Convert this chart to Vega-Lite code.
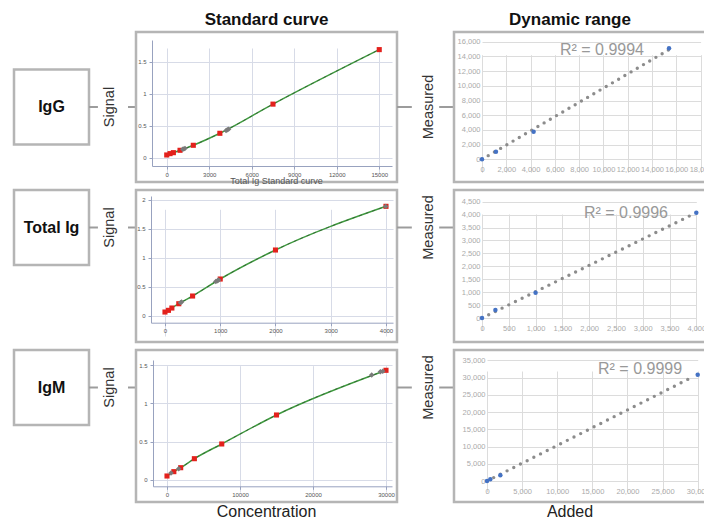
{
  "$schema": "https://vega.github.io/schema/vega-lite/v6.json",
  "background": "white",
  "padding": {"left": 12, "top": 9, "right": 0, "bottom": 0},
  "config": {
    "view": {"stroke": null},
    "font": "Liberation Sans",
    "axis": {"labelFont": "Liberation Sans"},
    "title": {"font": "Liberation Sans"}
  },
  "columns": 5,
  "bounds": "flush",
  "align": "each",
  "center": true,
  "spacing": {"row": 8, "column": 0},
  "concat": [
    {
      "width": 75, "height": 75,
      "view": {"stroke": "#b5b5b5", "strokeWidth": 2.5, "fill": "white"},
      "data": {"values": [{"name": "IgG"}]},
      "mark": {"type": "text", "fontSize": 16, "fontWeight": "bold", "color": "#111"},
      "encoding": {"text": {"field": "name"}}
    },
    {
      "width": 47, "height": 75,
      "data": {"values": [{"label": "Signal"}]},
      "layer": [
        {"mark": {"type": "rule", "color": "#9c9c9c", "strokeWidth": 2}, "encoding": {"x": {"datum": 0, "type": "quantitative", "scale": {"domain": [0, 1], "nice": false, "zero": false}, "axis": null}, "x2": {"datum": 0.19}}},
        {"mark": {"type": "rule", "color": "#9c9c9c", "strokeWidth": 2}, "encoding": {"x": {"datum": 0.83, "type": "quantitative", "axis": null}, "x2": {"datum": 1}}},
        {"mark": {"type": "text", "angle": 270, "fontSize": 14.5, "color": "#333"}, "encoding": {"x": {"datum": 0.447, "type": "quantitative", "axis": null}, "text": {"field": "label"}}}
      ]
    },
    {
      "width": 261, "height": 150,
      "view": {"stroke": "#b5b5b5", "strokeWidth": 2.5},
      "title": {"text": "Standard curve", "fontSize": 17, "fontWeight": "bold", "anchor": "middle", "offset": 3, "color": "#111"},
      "data": {"values": [
        {"conc": 0, "signal": 0.047, "kind": "standard"},
        {"conc": 234, "signal": 0.068, "kind": "standard"},
        {"conc": 469, "signal": 0.083, "kind": "standard"},
        {"conc": 938, "signal": 0.12, "kind": "standard"},
        {"conc": 1875, "signal": 0.198, "kind": "standard"},
        {"conc": 3750, "signal": 0.385, "kind": "standard"},
        {"conc": 7500, "signal": 0.84, "kind": "standard"},
        {"conc": 15000, "signal": 1.69, "kind": "standard"},
        {"conc": 1130, "signal": 0.135, "kind": "sample"},
        {"conc": 1210, "signal": 0.142, "kind": "sample"},
        {"conc": 1290, "signal": 0.15, "kind": "sample"},
        {"conc": 4190, "signal": 0.43, "kind": "sample"},
        {"conc": 4280, "signal": 0.44, "kind": "sample"},
        {"conc": 4370, "signal": 0.45, "kind": "sample"}
      ]},
      "encoding": {
        "x": {"field": "conc", "type": "quantitative",
          "scale": {"domain": [-1040, 15900], "range": [16, 256], "nice": false, "zero": false},
          "axis": {"title": null, "values": [0, 3000, 6000, 9000, 12000, 15000], "format": "d", "offset": -16, "labelFontSize": 6, "labelColor": "#555", "domainColor": "#98a2bf", "tickColor": "#98a2bf", "tickSize": 3, "labelPadding": 2, "gridColor": "#d7dbe7", "grid": true, "labelOverlap": false, "labelFlush": false}},
        "y": {"field": "signal", "type": "quantitative",
          "scale": {"domain": [-0.125, 1.84], "range": [134, 8], "nice": false, "zero": false},
          "axis": {"title": null, "values": [0, 0.5, 1, 1.5], "format": "~g", "offset": -16, "labelFontSize": 6, "labelColor": "#555", "domainColor": "#98a2bf", "tickColor": "#98a2bf", "tickSize": 3, "labelPadding": 3, "gridColor": "#d7dbe7", "grid": true, "labelOverlap": false, "labelFlush": false}}
      },
      "layer": [
        {"data": {"values": [{"lo": 1.5, "hi": 1.84}, {"lo": 0.5, "hi": 1}, {"lo": -0.125, "hi": 0}]},
         "mark": {"type": "rect", "fill": "#eceef4"},
         "encoding": {"x": {"datum": -1040, "type": "quantitative"}, "x2": {"datum": 15900}, "y": {"field": "lo", "type": "quantitative"}, "y2": {"field": "hi"}}},
        {"transform": [{"filter": "datum.kind == 'standard'"}], "mark": {"type": "line", "color": "#3f9b3f", "strokeWidth": 1.5, "interpolate": "monotone"}},
        {"transform": [{"filter": "datum.kind == 'standard'"}], "mark": {"type": "line", "color": "#2b472b", "strokeWidth": 1, "strokeDash": [3, 4], "opacity": 0.6, "interpolate": "monotone"}},
        {"transform": [{"filter": "datum.kind == 'standard'"}], "mark": {"type": "square", "color": "#e3211c", "size": 26, "opacity": 1}},
        {"transform": [{"filter": "datum.kind == 'sample'"}], "mark": {"type": "point", "shape": "diamond", "filled": true, "color": "#7a7a7a", "size": 30, "opacity": 1}}
      ]
    },
    {
      "width": 57, "height": 75,
      "data": {"values": [{"label": "Measured"}]},
      "layer": [
        {"mark": {"type": "rule", "color": "#9c9c9c", "strokeWidth": 2}, "encoding": {"x": {"datum": 0, "type": "quantitative", "scale": {"domain": [0, 1], "nice": false, "zero": false}, "axis": null}, "x2": {"datum": 0.26}}},
        {"mark": {"type": "rule", "color": "#9c9c9c", "strokeWidth": 2}, "encoding": {"x": {"datum": 0.74, "type": "quantitative", "axis": null}, "x2": {"datum": 1}}},
        {"mark": {"type": "text", "angle": 270, "fontSize": 14.5, "color": "#333"}, "encoding": {"x": {"datum": 0.553, "type": "quantitative", "axis": null}, "text": {"field": "label"}}}
      ]
    },
    {
      "width": 262, "height": 150,
      "view": {"stroke": "#b5b5b5", "strokeWidth": 2.5},
      "title": {"text": "Dynamic range", "fontSize": 17, "fontWeight": "bold", "anchor": "middle", "offset": 3, "dx": -15, "color": "#111"},
      "data": {"values": [
        {"added": 0, "measured": 0, "kind": "point"},
        {"added": 1150, "measured": 1030, "kind": "point"},
        {"added": 4250, "measured": 3760, "kind": "point"},
        {"added": 15400, "measured": 15100, "kind": "point"},
        {"added": 0, "measured": 0, "kind": "fit"},
        {"added": 15350, "measured": 14870, "kind": "fit"},
        {"added": 6420, "measured": 14870, "kind": "label", "label": "R² = 0.9994"}
      ]},
      "encoding": {
        "x": {"field": "added", "type": "quantitative",
          "scale": {"domain": [0, 18000], "range": [28, 246.6], "nice": false, "zero": false},
          "axis": {"title": null, "values": [0, 2000, 4000, 6000, 8000, 10000, 12000, 14000, 16000, 18000], "format": ",.0f", "offset": -22.7, "domain": false, "ticks": false, "labelFontSize": 7.5, "labelColor": "#aaa", "labelPadding": 6, "gridColor": "#dcdcdc", "grid": true, "labelOverlap": false, "labelFlush": false}},
        "y": {"field": "measured", "type": "quantitative",
          "scale": {"domain": [0, 16000], "range": [127.3, 9.7], "nice": false, "zero": false},
          "axis": {"title": null, "values": [0, 2000, 4000, 6000, 8000, 10000, 12000, 14000, 16000], "format": ",.0f", "offset": -28, "domain": false, "ticks": false, "labelFontSize": 7.5, "labelColor": "#aaa", "labelPadding": 2, "gridColor": "#dcdcdc", "grid": true, "labelOverlap": false, "labelFlush": false}}
      },
      "layer": [
        {"transform": [{"filter": "datum.kind == 'fit'"}], "mark": {"type": "line", "color": "#8c8c8c", "strokeWidth": 3.4, "strokeDash": [0, 7.2], "strokeCap": "round"}},
        {"transform": [{"filter": "datum.kind == 'point'"}], "mark": {"type": "circle", "color": "#4472c4", "size": 20, "opacity": 1}},
        {"transform": [{"filter": "datum.kind == 'label'"}], "mark": {"type": "text", "align": "left", "baseline": "middle", "fontSize": 16, "color": "#999999"}, "encoding": {"text": {"field": "label", "type": "nominal"}}}
      ]
    },
    {
      "width": 75, "height": 75,
      "view": {"stroke": "#b5b5b5", "strokeWidth": 2.5, "fill": "white"},
      "data": {"values": [{"name": "Total Ig"}]},
      "mark": {"type": "text", "fontSize": 16, "fontWeight": "bold", "color": "#111"},
      "encoding": {"text": {"field": "name"}}
    },
    {
      "width": 47, "height": 75,
      "data": {"values": [{"label": "Signal"}]},
      "layer": [
        {"mark": {"type": "rule", "color": "#9c9c9c", "strokeWidth": 2}, "encoding": {"x": {"datum": 0, "type": "quantitative", "scale": {"domain": [0, 1], "nice": false, "zero": false}, "axis": null}, "x2": {"datum": 0.19}}},
        {"mark": {"type": "rule", "color": "#9c9c9c", "strokeWidth": 2}, "encoding": {"x": {"datum": 0.83, "type": "quantitative", "axis": null}, "x2": {"datum": 1}}},
        {"mark": {"type": "text", "angle": 270, "fontSize": 14.5, "color": "#333"}, "encoding": {"x": {"datum": 0.447, "type": "quantitative", "axis": null}, "text": {"field": "label"}}}
      ]
    },
    {
      "width": 261, "height": 152,
      "view": {"stroke": "#b5b5b5", "strokeWidth": 2.5},
      "title": {"text": "Total Ig  Standard curve", "fontSize": 9, "fontWeight": "normal", "anchor": "middle", "offset": 4, "dx": 10, "color": "#555"},
      "data": {"values": [
        {"conc": 0, "signal": 0.064, "kind": "standard"},
        {"conc": 62.5, "signal": 0.093, "kind": "standard"},
        {"conc": 125, "signal": 0.133, "kind": "standard"},
        {"conc": 250, "signal": 0.207, "kind": "standard"},
        {"conc": 500, "signal": 0.34, "kind": "standard"},
        {"conc": 1000, "signal": 0.633, "kind": "standard"},
        {"conc": 2000, "signal": 1.133, "kind": "standard"},
        {"conc": 4000, "signal": 1.886, "kind": "standard"},
        {"conc": 280, "signal": 0.226, "kind": "sample"},
        {"conc": 300, "signal": 0.236, "kind": "sample"},
        {"conc": 920, "signal": 0.59, "kind": "sample"},
        {"conc": 950, "signal": 0.605, "kind": "sample"},
        {"conc": 970, "signal": 0.615, "kind": "sample"},
        {"conc": 3995, "signal": 1.885, "kind": "sample"}
      ]},
      "encoding": {
        "x": {"field": "conc", "type": "quantitative",
          "scale": {"domain": [-253, 4127], "range": [15, 257], "nice": false, "zero": false},
          "axis": {"title": null, "values": [0, 1000, 2000, 3000, 4000], "format": "d", "offset": -19.3, "labelFontSize": 6, "labelColor": "#555", "domainColor": "#98a2bf", "tickColor": "#98a2bf", "tickSize": 3, "labelPadding": 2, "gridColor": "#d7dbe7", "grid": true, "labelOverlap": false, "labelFlush": false}},
        "y": {"field": "signal", "type": "quantitative",
          "scale": {"domain": [-0.12, 2.064], "range": [132.7, 6], "nice": false, "zero": false},
          "axis": {"title": null, "values": [0, 0.5, 1, 1.5, 2], "format": "~g", "offset": -15, "labelFontSize": 6, "labelColor": "#555", "domainColor": "#98a2bf", "tickColor": "#98a2bf", "tickSize": 3, "labelPadding": 3, "gridColor": "#d7dbe7", "grid": true, "labelOverlap": false, "labelFlush": false}}
      },
      "layer": [
        {"data": {"values": [{"lo": 1.5, "hi": 2.064}, {"lo": 0.5, "hi": 1}, {"lo": -0.12, "hi": 0}]},
         "mark": {"type": "rect", "fill": "#eceef4"},
         "encoding": {"x": {"datum": -253, "type": "quantitative"}, "x2": {"datum": 4127}, "y": {"field": "lo", "type": "quantitative"}, "y2": {"field": "hi"}}},
        {"transform": [{"filter": "datum.kind == 'standard'"}], "mark": {"type": "line", "color": "#3f9b3f", "strokeWidth": 1.5, "interpolate": "monotone"}},
        {"transform": [{"filter": "datum.kind == 'standard'"}], "mark": {"type": "line", "color": "#2b472b", "strokeWidth": 1, "strokeDash": [3, 4], "opacity": 0.6, "interpolate": "monotone"}},
        {"transform": [{"filter": "datum.kind == 'standard'"}], "mark": {"type": "square", "color": "#e3211c", "size": 26, "opacity": 1}},
        {"transform": [{"filter": "datum.kind == 'sample'"}], "mark": {"type": "point", "shape": "diamond", "filled": true, "color": "#7a7a7a", "size": 30, "opacity": 1}}
      ]
    },
    {
      "width": 57, "height": 75,
      "data": {"values": [{"label": "Measured"}]},
      "layer": [
        {"mark": {"type": "rule", "color": "#9c9c9c", "strokeWidth": 2}, "encoding": {"x": {"datum": 0, "type": "quantitative", "scale": {"domain": [0, 1], "nice": false, "zero": false}, "axis": null}, "x2": {"datum": 0.26}}},
        {"mark": {"type": "rule", "color": "#9c9c9c", "strokeWidth": 2}, "encoding": {"x": {"datum": 0.74, "type": "quantitative", "axis": null}, "x2": {"datum": 1}}},
        {"mark": {"type": "text", "angle": 270, "fontSize": 14.5, "color": "#333"}, "encoding": {"x": {"datum": 0.553, "type": "quantitative", "axis": null}, "text": {"field": "label"}}}
      ]
    },
    {
      "width": 262, "height": 152,
      "view": {"stroke": "#b5b5b5", "strokeWidth": 2.5},
      "data": {"values": [
        {"added": 0, "measured": 0, "kind": "point"},
        {"added": 250, "measured": 310, "kind": "point"},
        {"added": 1000, "measured": 980, "kind": "point"},
        {"added": 4000, "measured": 4075, "kind": "point"},
        {"added": 0, "measured": 0, "kind": "fit"},
        {"added": 3950, "measured": 4025, "kind": "fit"},
        {"added": 1903, "measured": 4075, "kind": "label", "label": "R² = 0.9996"}
      ]},
      "encoding": {
        "x": {"field": "added", "type": "quantitative",
          "scale": {"domain": [0, 4000], "range": [28, 242.3], "nice": false, "zero": false},
          "axis": {"title": null, "values": [0, 500, 1000, 1500, 2000, 2500, 3000, 3500, 4000], "format": ",.0f", "offset": -24, "domain": false, "ticks": false, "labelFontSize": 7.5, "labelColor": "#aaa", "labelPadding": 6, "gridColor": "#dcdcdc", "grid": true, "labelOverlap": false, "labelFlush": false}},
        "y": {"field": "measured", "type": "quantitative",
          "scale": {"domain": [0, 4500], "range": [128, 11.7], "nice": false, "zero": false},
          "axis": {"title": null, "values": [0, 500, 1000, 1500, 2000, 2500, 3000, 3500, 4000, 4500], "format": ",.0f", "offset": -28, "domain": false, "ticks": false, "labelFontSize": 7.5, "labelColor": "#aaa", "labelPadding": 2, "gridColor": "#dcdcdc", "grid": true, "labelOverlap": false, "labelFlush": false}}
      },
      "layer": [
        {"transform": [{"filter": "datum.kind == 'fit'"}], "mark": {"type": "line", "color": "#8c8c8c", "strokeWidth": 3.4, "strokeDash": [0, 7.45], "strokeCap": "round"}},
        {"transform": [{"filter": "datum.kind == 'point'"}], "mark": {"type": "circle", "color": "#4472c4", "size": 20, "opacity": 1}},
        {"transform": [{"filter": "datum.kind == 'label'"}], "mark": {"type": "text", "align": "left", "baseline": "middle", "fontSize": 16, "color": "#999999"}, "encoding": {"text": {"field": "label", "type": "nominal"}}}
      ]
    },
    {
      "width": 75, "height": 75,
      "view": {"stroke": "#b5b5b5", "strokeWidth": 2.5, "fill": "white"},
      "data": {"values": [{"name": "IgM"}]},
      "mark": {"type": "text", "fontSize": 16, "fontWeight": "bold", "color": "#111"},
      "encoding": {"text": {"field": "name"}}
    },
    {
      "width": 47, "height": 75,
      "data": {"values": [{"label": "Signal"}]},
      "layer": [
        {"mark": {"type": "rule", "color": "#9c9c9c", "strokeWidth": 2}, "encoding": {"x": {"datum": 0, "type": "quantitative", "scale": {"domain": [0, 1], "nice": false, "zero": false}, "axis": null}, "x2": {"datum": 0.19}}},
        {"mark": {"type": "rule", "color": "#9c9c9c", "strokeWidth": 2}, "encoding": {"x": {"datum": 0.83, "type": "quantitative", "axis": null}, "x2": {"datum": 1}}},
        {"mark": {"type": "text", "angle": 270, "fontSize": 14.5, "color": "#333"}, "encoding": {"x": {"datum": 0.447, "type": "quantitative", "axis": null}, "text": {"field": "label"}}}
      ]
    },
    {
      "width": 261, "height": 152,
      "view": {"stroke": "#b5b5b5", "strokeWidth": 2.5},
      "title": {"text": "Concentration", "orient": "bottom", "fontSize": 16, "fontWeight": "normal", "anchor": "middle", "offset": 2, "color": "#222"},
      "data": {"values": [
        {"conc": 0, "signal": 0.048, "kind": "standard"},
        {"conc": 938, "signal": 0.105, "kind": "standard"},
        {"conc": 1875, "signal": 0.157, "kind": "standard"},
        {"conc": 3750, "signal": 0.275, "kind": "standard"},
        {"conc": 7500, "signal": 0.468, "kind": "standard"},
        {"conc": 15000, "signal": 0.848, "kind": "standard"},
        {"conc": 30000, "signal": 1.434, "kind": "standard"},
        {"conc": 550, "signal": 0.088, "kind": "sample"},
        {"conc": 1600, "signal": 0.144, "kind": "sample"},
        {"conc": 28040, "signal": 1.372, "kind": "sample"},
        {"conc": 29230, "signal": 1.415, "kind": "sample"},
        {"conc": 29560, "signal": 1.42, "kind": "sample"}
      ]},
      "encoding": {
        "x": {"field": "conc", "type": "quantitative",
          "scale": {"domain": [-1918, 30822], "range": [17, 256], "nice": false, "zero": false},
          "axis": {"title": null, "values": [0, 10000, 20000, 30000], "format": "d", "offset": -15.7, "labelFontSize": 6, "labelColor": "#555", "domainColor": "#98a2bf", "tickColor": "#98a2bf", "tickSize": 3, "labelPadding": 2, "gridColor": "#d7dbe7", "grid": true, "labelOverlap": false, "labelFlush": false}},
        "y": {"field": "signal", "type": "quantitative",
          "scale": {"domain": [-0.087, 1.569], "range": [136.3, 10], "nice": false, "zero": false},
          "axis": {"title": null, "values": [0, 0.5, 1, 1.5], "format": "~g", "offset": -17, "labelFontSize": 6, "labelColor": "#555", "domainColor": "#98a2bf", "tickColor": "#98a2bf", "tickSize": 3, "labelPadding": 3, "gridColor": "#d7dbe7", "grid": true, "labelOverlap": false, "labelFlush": false}}
      },
      "layer": [
        {"data": {"values": [{"lo": 1.5, "hi": 1.569}, {"lo": 0.5, "hi": 1}, {"lo": -0.087, "hi": 0}]},
         "mark": {"type": "rect", "fill": "#eceef4"},
         "encoding": {"x": {"datum": -1918, "type": "quantitative"}, "x2": {"datum": 30822}, "y": {"field": "lo", "type": "quantitative"}, "y2": {"field": "hi"}}},
        {"transform": [{"filter": "datum.kind == 'standard'"}], "mark": {"type": "line", "color": "#3f9b3f", "strokeWidth": 1.5, "interpolate": "monotone"}},
        {"transform": [{"filter": "datum.kind == 'standard'"}], "mark": {"type": "line", "color": "#2b472b", "strokeWidth": 1, "strokeDash": [3, 4], "opacity": 0.6, "interpolate": "monotone"}},
        {"transform": [{"filter": "datum.kind == 'standard'"}], "mark": {"type": "square", "color": "#e3211c", "size": 26, "opacity": 1}},
        {"transform": [{"filter": "datum.kind == 'sample'"}], "mark": {"type": "point", "shape": "diamond", "filled": true, "color": "#7a7a7a", "size": 30, "opacity": 1}}
      ]
    },
    {
      "width": 57, "height": 75,
      "data": {"values": [{"label": "Measured"}]},
      "layer": [
        {"mark": {"type": "rule", "color": "#9c9c9c", "strokeWidth": 2}, "encoding": {"x": {"datum": 0, "type": "quantitative", "scale": {"domain": [0, 1], "nice": false, "zero": false}, "axis": null}, "x2": {"datum": 0.26}}},
        {"mark": {"type": "rule", "color": "#9c9c9c", "strokeWidth": 2}, "encoding": {"x": {"datum": 0.74, "type": "quantitative", "axis": null}, "x2": {"datum": 1}}},
        {"mark": {"type": "text", "angle": 270, "fontSize": 14.5, "color": "#333"}, "encoding": {"x": {"datum": 0.553, "type": "quantitative", "axis": null}, "text": {"field": "label"}}}
      ]
    },
    {
      "width": 262, "height": 152,
      "view": {"stroke": "#b5b5b5", "strokeWidth": 2.5},
      "title": {"text": "Added", "orient": "bottom", "fontSize": 16, "fontWeight": "normal", "anchor": "middle", "offset": 2, "dx": -15, "color": "#222"},
      "data": {"values": [
        {"added": 0, "measured": 0, "kind": "point"},
        {"added": 470, "measured": 480, "kind": "point"},
        {"added": 1900, "measured": 1650, "kind": "point"},
        {"added": 30000, "measured": 30800, "kind": "point"},
        {"added": 0, "measured": 0, "kind": "fit"},
        {"added": 29500, "measured": 30400, "kind": "fit"},
        {"added": 15807, "measured": 32480, "kind": "label", "label": "R² = 0.9999"}
      ]},
      "encoding": {
        "x": {"field": "added", "type": "quantitative",
          "scale": {"domain": [0, 30000], "range": [33, 243.7], "nice": false, "zero": false},
          "axis": {"title": null, "values": [0, 5000, 10000, 15000, 20000, 25000, 30000], "format": ",.0f", "offset": -21, "domain": false, "ticks": false, "labelFontSize": 7.5, "labelColor": "#aaa", "labelPadding": 6, "gridColor": "#dcdcdc", "grid": true, "labelOverlap": false, "labelFlush": false}},
        "y": {"field": "measured", "type": "quantitative",
          "scale": {"domain": [0, 35000], "range": [131, 10.3], "nice": false, "zero": false},
          "axis": {"title": null, "values": [0, 5000, 10000, 15000, 20000, 25000, 30000, 35000], "format": ",.0f", "offset": -33, "domain": false, "ticks": false, "labelFontSize": 7.5, "labelColor": "#aaa", "labelPadding": 2, "gridColor": "#dcdcdc", "grid": true, "labelOverlap": false, "labelFlush": false}}
      },
      "layer": [
        {"transform": [{"filter": "datum.kind == 'fit'"}], "mark": {"type": "line", "color": "#8c8c8c", "strokeWidth": 3.4, "strokeDash": [0, 7.5], "strokeCap": "round"}},
        {"transform": [{"filter": "datum.kind == 'point'"}], "mark": {"type": "circle", "color": "#4472c4", "size": 20, "opacity": 1}},
        {"transform": [{"filter": "datum.kind == 'label'"}], "mark": {"type": "text", "align": "left", "baseline": "middle", "fontSize": 16, "color": "#999999"}, "encoding": {"text": {"field": "label", "type": "nominal"}}}
      ]
    }
  ]
}
